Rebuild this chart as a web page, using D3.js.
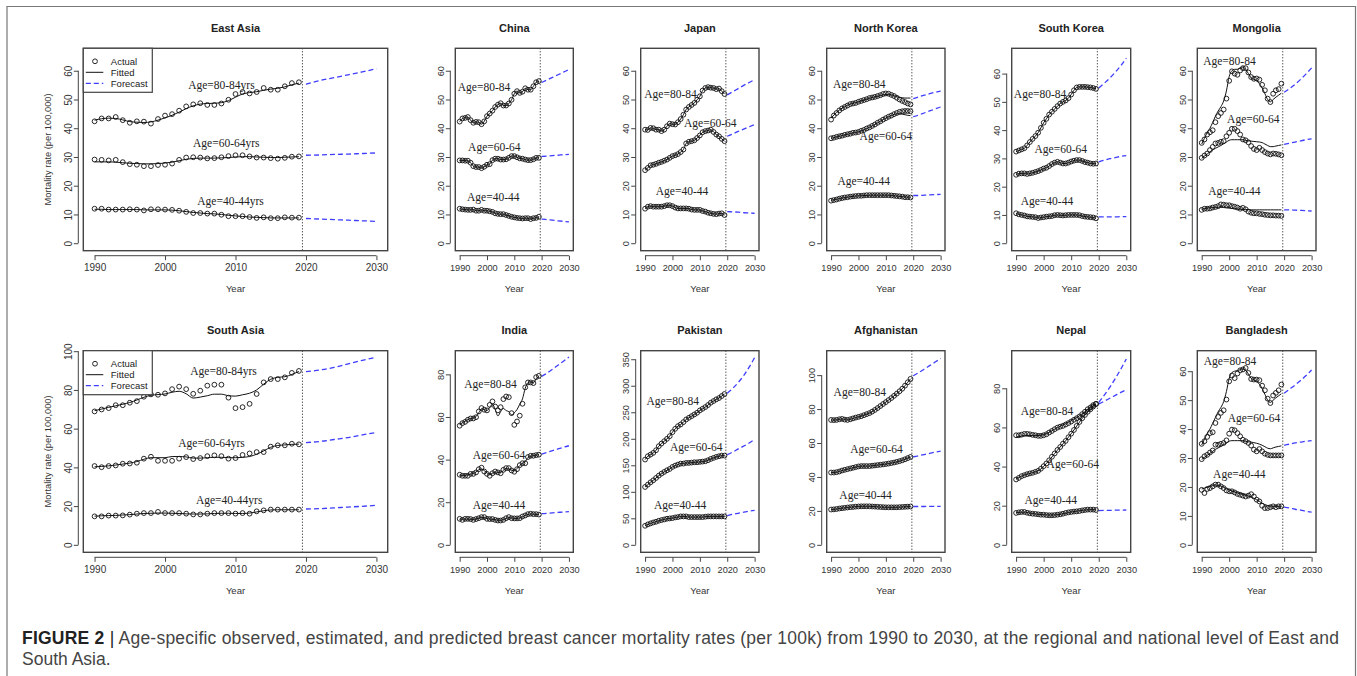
<!DOCTYPE html>
<html>
<head>
<meta charset="utf-8">
<script src="https://cdn.jsdelivr.net/npm/d3@7/dist/d3.min.js"></script>
<style>
  body { margin: 0; background: #fff; }
  svg { display: block; }
</style>
</head>
<body>
<div id="chart"></div>
<script>
"use strict";

// == DATA ==
var panelNames = ["East Asia", "China", "Japan", "North Korea", "South Korea", "Mongolia",
                  "South Asia", "India", "Pakistan", "Afghanistan", "Nepal", "Bangladesh"];
var ageGroups = ["80-84", "60-64", "40-44"];
var obsYears = [1990, 1991, 1992, 1993, 1994, 1995, 1996, 1997, 1998, 1999,
                2000, 2001, 2002, 2003, 2004, 2005, 2006, 2007, 2008, 2009,
                2010, 2011, 2012, 2013, 2014, 2015, 2016, 2017, 2018, 2019];
var fcYears = [2020, 2022, 2024, 2026, 2028, 2030];
var xTicks = [1990, 2000, 2010, 2020, 2030];
var yMaxes = [65.2, 65.2, 65.2, 65.2, 66.3, 65.2, 96.4, 87.6, 352, 110, 95.4, 64.5];
var yTickSets = [
  [0, 10, 20, 30, 40, 50, 60], [0, 10, 20, 30, 40, 50, 60], [0, 10, 20, 30, 40, 50, 60],
  [0, 10, 20, 30, 40, 50, 60], [0, 10, 20, 30, 40, 50, 60], [0, 10, 20, 30, 40, 50, 60],
  [0, 20, 40, 60, 80, 100], [0, 20, 40, 60, 80], [0, 50, 100, 150, 200, 250, 300, 350],
  [0, 20, 40, 60, 80, 100], [0, 20, 40, 60, 80], [0, 10, 20, 30, 40, 50, 60]
];

// each: [80-84, 60-64, 40-44]
var eastAsiaActual = [
  [42.4,43.4,43.4,43.9,42.8,41.9,42.4,42.3,41.6,43.2,44.4,44.9,46.1,47.6,48.3,48.7,48.1,48.1,48.6,49.9,51.9,52.6,52.1,52.6,54.0,53.4,53.4,54.6,55.7,56.0],
  [29.1,29.0,28.8,29.0,28.2,27.5,27.3,26.8,26.8,27.2,27.3,27.7,29.0,29.8,29.9,29.8,29.5,29.6,29.9,30.3,30.6,30.6,30.2,29.8,29.8,29.6,29.4,29.7,30.1,30.2],
  [12.0,12.0,11.7,11.7,11.7,11.8,11.7,11.4,11.8,11.8,11.7,11.6,11.3,10.9,10.5,10.5,10.3,10.3,9.9,9.4,9.4,9.4,9.1,8.8,9.0,8.7,8.7,9.0,8.9,8.9]
];
var eastAsiaFitted = [
  [42.8,43.3,43.5,43.4,42.9,42.3,42.1,42.0,42.2,42.8,43.6,44.5,45.6,46.8,47.8,48.4,48.6,48.7,48.9,49.6,50.8,51.9,52.4,52.7,53.2,53.6,53.9,54.4,55.1,55.7],
  [28.3,28.3,28.3,28.2,28.0,27.8,27.7,27.6,27.6,27.7,27.9,28.2,28.7,29.2,29.5,29.6,29.6,29.6,29.7,29.8,30.0,30.1,30.1,30.0,29.9,29.8,29.8,29.9,30.0,30.1],
  [11.8,11.8,11.7,11.7,11.7,11.7,11.7,11.6,11.6,11.6,11.6,11.5,11.3,11.0,10.7,10.5,10.3,10.2,10.0,9.7,9.5,9.3,9.1,9.0,8.9,8.8,8.8,8.8,8.8,8.8]
];
var eastAsiaForecast = [[55.3,56.6,57.6,58.6,59.6,60.7], [30.6,30.7,30.9,31.0,31.2,31.4], [8.6,8.4,8.2,8.0,7.8,7.6]];

var chinaActual = [
  [42.3,43.4,43.6,43.9,42.8,41.9,42.2,42.1,41.4,42.4,44.2,45.1,46.1,47.4,48.2,48.7,47.9,47.9,48.6,49.9,52.0,52.9,52.3,52.7,53.9,53.4,53.4,54.6,56.0,56.4],
  [28.8,28.8,28.7,28.7,28.0,26.8,26.5,26.5,26.1,26.6,27.3,27.5,28.9,29.4,29.4,29.1,29.1,29.2,29.7,30.3,30.3,29.9,29.5,29.4,29.1,28.9,28.9,29.2,29.7,29.7],
  [12.0,11.8,11.7,11.6,11.6,11.7,11.3,11.3,11.6,11.3,11.3,11.1,10.9,10.4,10.2,10.1,10.1,9.8,9.5,9.2,9.0,8.8,8.7,8.6,8.7,8.7,8.4,8.7,8.8,9.2]
];
var chinaFitted = chinaActual;
var chinaForecast = [[55.9,56.8,57.7,58.6,59.5,60.4], [30.2,30.3,30.5,30.6,30.8,30.9], [8.4,8.2,8.0,7.8,7.6,7.4]];

var japanActual = [
  [39.5,39.4,40.1,40.0,39.5,39.5,39.0,39.5,40.7,41.6,41.4,41.3,42.1,43.2,44.7,46.5,47.4,48.1,48.8,49.9,51.1,53.1,54.0,54.3,54.1,54.0,53.6,53.8,52.9,51.9],
  [25.4,26.2,27.1,27.3,27.6,28.0,28.3,28.7,29.1,29.7,30.3,30.6,31.0,31.7,32.6,34.7,35.3,35.5,35.8,36.6,37.5,38.6,39.0,39.2,39.5,38.7,37.8,37.2,36.3,35.5],
  [12.0,12.7,12.9,12.7,12.7,12.7,12.7,12.9,13.2,13.2,12.9,12.4,12.1,12.1,12.1,12.1,12.0,11.7,11.6,11.6,11.6,11.2,11.0,10.6,10.4,10.2,10.1,10.3,10.4,9.8]
];
var japanFitted = japanActual;
var japanForecast = [[51.6,52.7,53.8,54.9,55.9,56.9], [37.2,38.0,38.9,39.7,40.5,41.3], [11.0,10.9,10.8,10.6,10.5,10.4]];

var northKoreaActual = [
  [43.0,44.4,45.3,46.2,46.9,47.4,47.9,48.4,48.6,48.8,49.2,49.5,49.8,50.1,50.5,50.7,50.9,51.2,51.5,51.9,52.1,52.0,51.6,51.2,50.6,50.0,49.5,49.1,48.6,48.3],
  [36.5,36.7,37.0,37.2,37.4,37.7,37.9,38.1,38.4,38.5,38.7,39.1,39.4,39.9,40.3,40.8,41.3,41.9,42.4,43.0,43.5,44.0,44.4,44.9,45.3,45.7,45.9,46.0,46.0,45.9],
  [14.8,15.0,15.2,15.5,15.7,15.9,16.0,16.2,16.3,16.4,16.5,16.5,16.6,16.7,16.7,16.7,16.7,16.7,16.7,16.7,16.7,16.7,16.6,16.5,16.4,16.3,16.2,16.0,16.0,15.9]
];
var northKoreaFitted = [
  [43.5,44.6,45.5,46.3,47.0,47.5,48.0,48.4,48.7,48.9,49.2,49.5,49.8,50.1,50.4,50.7,50.9,51.1,51.4,51.6,51.8,51.8,51.6,51.3,51.0,50.7,50.6,50.5,50.5,50.5],
  [36.5,36.7,37.0,37.2,37.4,37.7,37.9,38.1,38.4,38.5,38.7,39.1,39.4,39.9,40.3,40.8,41.3,41.9,42.4,43.0,43.5,44.0,44.4,44.8,45.0,45.0,44.9,44.7,44.5,44.4],
  [14.9,15.1,15.3,15.5,15.7,15.9,16.0,16.2,16.3,16.4,16.5,16.5,16.6,16.6,16.7,16.7,16.7,16.7,16.7,16.7,16.7,16.7,16.6,16.5,16.4,16.3,16.2,16.1,16.0,16.0]
];
var northKoreaForecast = [[50.3,50.9,51.5,52.0,52.5,52.9], [44.0,44.6,45.3,46.0,46.7,47.4], [16.6,16.6,16.7,16.8,16.9,17.0]];

var southKoreaActual = [
  [32.4,32.8,33.2,33.6,34.6,35.8,36.9,37.9,39.1,40.8,42.6,44.0,45.5,46.5,47.5,48.5,49.4,50.0,50.5,51.3,52.6,54.1,55.1,55.3,55.3,55.3,55.2,55.1,54.9,54.6],
  [24.2,24.6,24.7,24.7,24.5,24.7,24.9,25.2,25.5,25.9,26.4,26.7,27.3,28.0,28.5,28.8,28.5,28.2,28.2,28.5,28.9,29.2,29.4,29.4,29.1,28.7,28.5,28.2,28.1,28.2],
  [10.6,10.2,10.0,9.8,9.5,9.4,9.3,9.2,8.9,9.1,9.2,9.4,9.5,9.6,9.9,10.0,9.9,9.8,9.9,10.0,10.0,10.0,10.0,9.9,9.6,9.4,9.3,9.2,9.1,8.8]
];
var southKoreaFitted = southKoreaActual;
var southKoreaForecast = [[54.9,56.6,58.4,60.5,62.8,65.5], [28.8,29.4,29.9,30.3,30.7,31.0], [9.3,9.3,9.3,9.3,9.4,9.4]];

var mongoliaActual = [
  [34.9,36.1,37.8,38.6,39.3,42.1,44.2,45.3,46.5,50.3,56.5,59.8,59.0,58.6,60.1,60.9,60.9,59.4,57.8,57.2,57.3,56.9,55.1,53.2,50.3,49.1,52.0,53.2,53.6,55.5],
  [29.7,30.5,31.2,32.4,33.5,34.7,34.9,35.3,35.5,37.2,38.4,39.8,39.8,39.0,37.8,36.1,35.8,35.1,33.8,32.8,32.4,33.2,32.4,31.7,31.2,30.9,31.2,31.1,30.9,30.6],
  [11.6,12.0,12.0,12.1,12.4,12.6,12.9,13.5,13.4,13.2,13.2,12.9,12.7,12.4,12.0,12.3,11.8,11.0,10.6,10.4,10.4,10.2,10.1,9.9,9.8,9.7,9.7,9.6,9.6,9.5]
];
var mongoliaFitted = [
  [34.5,36.5,38.5,40.0,42.0,44.2,46.0,47.5,49.5,53.0,58.0,60.0,60.5,60.5,61.0,61.3,60.5,59.0,57.5,57.0,56.5,55.5,54.0,52.0,50.0,49.2,50.0,50.8,51.5,52.2],
  [29.5,30.3,31.0,31.8,32.5,33.0,33.5,34.0,34.6,35.2,35.8,36.0,36.0,36.0,36.0,36.0,35.8,35.6,35.5,35.4,35.3,35.2,35.0,34.5,34.0,33.6,33.6,33.8,34.0,34.2],
  [11.8,12.0,12.2,12.3,12.4,12.5,12.5,12.5,12.4,12.3,12.2,12.1,12.0,11.9,11.8,11.8,11.7,11.7,11.6,11.6,11.6,11.6,11.6,11.6,11.6,11.6,11.6,11.6,11.6,11.6]
];
var mongoliaForecast = [[52.5,53.8,55.3,57.0,58.9,61.0], [34.4,34.8,35.2,35.6,36.0,36.3], [11.6,11.6,11.5,11.4,11.3,11.2]];

var southAsiaActual = [
  [68.9,69.9,70.6,72.1,72.1,73.4,74.2,76.5,77.7,77.5,78.2,80.4,81.7,80.4,78.0,79.6,82.2,82.7,82.7,76.0,70.6,71.1,72.8,77.9,83.9,85.6,85.6,86.5,88.8,89.8],
  [40.7,40.1,40.7,41.0,41.9,42.0,42.4,44.5,45.5,43.4,43.4,43.4,44.5,45.3,44.3,44.8,45.8,46.2,45.8,44.5,44.8,46.4,47.2,47.9,47.9,50.7,51.4,51.4,52.2,51.9],
  [14.7,14.7,15.1,15.1,15.2,15.6,16.1,16.4,16.4,17.0,16.4,16.4,16.4,16.1,15.7,15.7,16.1,16.4,16.4,16.4,16.1,16.4,16.1,17.3,17.8,18.2,18.2,18.2,18.2,18.2]
];
var southAsiaFitted = [
  [69.3,70.1,71.0,71.8,72.6,73.5,74.8,76.2,77.2,77.6,77.9,78.8,79.3,78.0,75.8,76.3,77.0,77.8,77.8,77.0,76.8,77.5,78.3,80.0,83.0,85.5,86.5,86.8,88.0,89.5],
  [40.3,40.5,40.8,41.2,41.7,42.2,43.0,44.2,45.0,45.0,45.0,45.6,45.6,45.4,44.8,44.8,45.0,45.2,45.2,45.0,45.0,45.2,45.6,46.8,48.5,50.4,51.3,51.6,51.9,52.0],
  [14.8,15.0,15.1,15.2,15.4,15.6,15.9,16.2,16.3,16.4,16.4,16.3,16.2,16.0,15.9,15.9,16.0,16.2,16.3,16.3,16.2,16.2,16.4,17.0,17.6,18.0,18.1,18.1,18.1,18.1]
];
var southAsiaForecast = [[89.4,90.3,91.6,93.4,95.3,96.9], [52.8,53.4,54.4,55.4,56.8,58.0], [18.5,18.7,19.1,19.5,19.9,20.4]];

var indiaActual = [
  [55.9,57.1,57.7,58.7,59.3,59.3,59.9,62.6,64.2,63.4,63.1,65.7,67.3,64.9,63.1,64.6,68.4,69.6,69.3,61.8,56.3,57.9,60.6,66.2,73.9,76.2,76.2,75.9,78.7,79.3],
  [32.9,32.4,32.4,32.4,33.3,33.3,34.0,35.5,36.2,34.4,33.3,32.4,33.6,34.4,34.0,33.6,35.2,36.0,36.0,34.9,34.3,35.5,37.4,38.3,38.3,41.2,41.8,41.8,42.1,42.3],
  [12.2,11.7,12.2,12.2,12.1,11.7,12.1,12.5,13.0,13.0,12.2,12.1,12.1,11.7,11.4,11.4,11.7,12.5,13.0,12.5,12.4,12.4,12.5,13.3,13.8,14.4,14.6,14.4,14.4,14.2]
];
var indiaFitted = [
  [56.5,57.3,58.0,58.8,59.2,59.5,60.2,62.0,63.8,63.5,63.0,64.5,66.0,63.5,60.5,62.5,64.0,63.0,62.5,61.0,62.0,63.5,66.0,68.5,73.5,76.0,76.5,76.0,78.0,79.0],
  [32.7,32.6,32.6,32.8,33.2,33.5,34.2,35.2,35.6,34.8,33.8,33.0,33.6,34.2,34.0,34.0,35.0,35.8,35.6,35.0,34.8,35.8,37.2,38.2,39.0,41.0,41.6,41.9,42.1,42.3],
  [12.1,12.0,12.1,12.1,12.0,11.9,12.1,12.5,12.9,12.8,12.3,12.1,12.0,11.8,11.5,11.5,11.8,12.4,12.8,12.6,12.4,12.4,12.6,13.2,13.8,14.3,14.5,14.4,14.3,14.3]
];
var indiaForecast = [[79.0,80.6,82.4,84.3,86.2,88.1], [42.6,43.4,44.2,45.0,45.8,46.5], [14.6,14.8,15.0,15.2,15.4,15.6]];

var pakistanActual = [
  [160.8,167.1,170.2,173.4,178.4,186.0,191.0,195.5,199.9,204.9,212.5,218.8,223.8,227.0,231.4,236.4,239.6,242.7,245.9,249.1,253.5,256.6,259.8,263.6,268.0,271.1,274.3,276.8,280.6,284.4],
  [109.1,113.5,117.9,121.7,126.1,130.5,134.3,137.5,140.6,143.1,146.9,149.4,151.3,153.2,153.2,154.5,154.5,155.1,155.7,155.7,156.4,157.0,157.6,159.5,162.0,163.9,165.8,167.1,168.3,168.3],
  [35.9,38.5,40.4,42.2,43.5,45.4,46.7,47.9,49.2,49.8,50.4,51.7,52.3,53.6,53.6,53.6,52.3,52.3,52.3,52.3,52.3,52.3,53.0,53.6,53.6,53.6,53.6,53.6,53.6,53.6]
];
var pakistanFitted = pakistanActual;
var pakistanForecast = [[286,295,306,319,335,353], [170,175,181,186,192,199], [55,57.5,59.5,61.5,63.5,65]];

var afghanistanActual = [
  [73.6,73.5,73.6,74.0,74.2,73.8,73.6,74.0,74.5,75.0,75.4,75.8,76.4,77.0,77.6,78.5,79.5,80.6,81.8,83.0,84.1,85.3,86.5,87.8,89.1,90.5,92.0,93.8,95.8,97.8],
  [42.6,42.6,42.8,43.2,43.8,44.2,44.6,45.0,45.4,45.8,46.2,46.4,46.4,46.4,46.4,46.6,46.8,47.0,47.2,47.4,47.6,47.9,48.2,48.5,48.9,49.3,49.8,50.4,51.1,51.8],
  [20.8,20.9,21.1,21.4,21.6,21.8,22.0,22.2,22.3,22.5,22.6,22.7,22.7,22.7,22.7,22.6,22.5,22.4,22.3,22.2,22.1,22.1,22.1,22.1,22.1,22.2,22.3,22.4,22.5,22.6]
];
var afghanistanFitted = afghanistanActual;
var afghanistanForecast = [[99.6,101.5,103.5,105.6,107.7,109.8], [51.9,52.5,53.2,53.9,54.6,55.2], [22.6,22.6,22.6,22.7,22.7,22.7]];

var nepalActual = [
  [56.0,56.0,56.3,56.7,56.7,56.5,56.2,56.0,55.7,55.7,56.0,56.5,57.4,58.2,59.1,59.9,60.4,60.8,61.5,62.2,63.0,63.9,64.7,65.6,66.8,68.0,69.3,70.2,71.4,71.9],
  [33.4,34.2,35.1,35.6,36.1,36.5,36.8,37.3,37.8,38.9,40.2,41.6,43.2,45.0,46.7,48.5,50.0,51.7,53.1,55.0,56.8,58.7,60.8,62.8,64.7,66.4,68.0,69.3,70.7,72.1],
  [16.3,16.6,16.8,16.8,16.4,16.1,15.9,15.8,15.6,15.4,15.4,15.2,15.1,15.1,15.2,15.4,15.6,15.9,16.3,16.6,16.8,17.0,17.1,17.3,17.6,17.8,18.0,18.0,18.0,17.8]
];
var nepalFitted = [
  [55.0,55.3,55.6,55.8,55.9,55.9,55.9,55.9,55.9,56.0,56.3,56.8,57.5,58.3,59.1,59.9,60.6,61.3,62.0,62.7,63.5,64.3,65.1,66.0,67.0,68.0,69.1,70.1,71.1,72.0],
  [33.6,34.4,35.1,35.7,36.1,36.5,36.9,37.3,37.9,38.8,40.1,41.6,43.2,44.9,46.7,48.4,50.0,51.6,53.2,55.0,56.8,58.7,60.7,62.7,64.6,66.3,67.9,69.3,70.7,72.0],
  [16.4,16.6,16.7,16.7,16.5,16.2,16.0,15.8,15.6,15.5,15.4,15.3,15.2,15.2,15.3,15.4,15.6,15.9,16.2,16.5,16.8,17.0,17.2,17.4,17.6,17.8,17.9,18.0,18.0,17.9]
];
var nepalForecast = [[72.0,73.4,74.9,76.4,77.9,79.3], [72.8,76.5,80.5,85.0,89.8,95.0], [17.5,17.6,17.6,17.7,17.7,17.8]];

var bangladeshActual = [
  [34.9,35.8,37.3,38.6,38.9,42.1,44.2,45.6,46.5,50.2,56.5,58.5,57.6,59.2,60.3,60.6,61.1,59.4,57.3,57.1,57.1,56.9,55.0,53.4,50.5,49.0,51.6,52.5,53.4,55.4],
  [29.6,30.6,31.1,31.9,32.6,34.6,34.6,34.9,35.2,36.1,38.4,39.8,39.6,38.6,37.5,36.3,35.8,35.2,34.3,32.9,32.3,33.1,32.3,31.5,31.1,30.9,30.9,30.9,30.9,30.9],
  [19.0,17.9,19.3,19.6,20.2,20.8,20.8,20.2,19.6,18.8,18.5,18.5,18.1,17.6,17.3,17.0,16.7,17.0,17.5,16.7,15.6,15.0,13.5,12.7,12.7,13.0,13.3,13.0,13.3,13.3]
];
var bangladeshFitted = [
  [34.5,36.5,38.5,40.0,42.0,44.0,46.0,47.5,49.5,53.0,57.5,59.5,60.0,60.2,60.5,60.8,60.3,59.0,57.5,57.0,56.5,55.5,54.0,52.0,50.0,49.2,50.0,50.8,51.5,52.2],
  [29.5,30.2,30.9,31.6,32.3,33.0,33.5,34.0,34.6,35.2,35.8,36.0,36.0,36.0,36.0,36.0,35.8,35.6,35.5,35.3,35.1,34.8,34.4,33.9,33.4,33.2,33.5,33.8,34.0,34.2],
  [19.3,19.6,19.9,20.2,20.5,20.7,20.6,20.3,19.9,19.4,19.0,18.6,18.3,18.0,17.7,17.4,17.1,16.8,16.5,16.1,15.6,15.0,14.4,13.9,13.6,13.4,13.3,13.3,13.3,13.3]
];
var bangladeshForecast = [[52.4,53.8,55.2,56.8,58.5,60.4], [34.4,34.8,35.2,35.5,35.8,36.0], [13.0,12.7,12.3,12.0,11.6,11.3]];

// where the "Age=" notes sit, in [year, rate] per age group
var ageLabelAt = [
  [[2008.0, 54.9], [2008.7, 34.7], [2009.3, 14.6]],
  [[1998.9, 54.2], [2002.7, 33.5], [2002.3, 16.2]],
  [[1999.3, 51.8], [2013.8, 41.8], [2003.5, 18.0]],
  [[2000.3, 55.5], [2010.0, 37.2], [2001.9, 21.5]],
  [[1998.7, 52.8], [2006.2, 33.5], [2001.2, 15.1]],
  [[2000.1, 63.5], [2008.8, 43.2], [2001.9, 18.0]],
  [[2008.3, 89.6], [2006.6, 52.4], [2009.1, 23.4]],
  [[2001.3, 75.4], [2004.4, 42.3], [2004.4, 18.8]],
  [[2000.1, 271], [2008.7, 184], [2002.8, 74.4]],
  [[2000.5, 90.3], [2006.6, 56.2], [2002.6, 29.6]],
  [[2001.2, 68.5], [2010.6, 41.1], [2002.6, 23.1]],
  [[2000.3, 63.7], [2009.0, 43.8], [2003.7, 24.6]]
];

var actual = [eastAsiaActual, chinaActual, japanActual, northKoreaActual, southKoreaActual, mongoliaActual,
              southAsiaActual, indiaActual, pakistanActual, afghanistanActual, nepalActual, bangladeshActual];
var fitted = [eastAsiaFitted, chinaFitted, japanFitted, northKoreaFitted, southKoreaFitted, mongoliaFitted,
              southAsiaFitted, indiaFitted, pakistanFitted, afghanistanFitted, nepalFitted, bangladeshFitted];
var forecast = [eastAsiaForecast, chinaForecast, japanForecast, northKoreaForecast, southKoreaForecast, mongoliaForecast,
                southAsiaForecast, indiaForecast, pakistanForecast, afghanistanForecast, nepalForecast, bangladeshForecast];

// == LAYOUT ==
var W = 1357, H = 676;
var colX = [[83.3, 387.7], [455.3, 573.3], [640.7, 759], [826.7, 945], [1011.7, 1130.7], [1197.3, 1316]];
var rowY = [[48.3, 250.7], [350.7, 552.3]];
var BLUE = "#3d3dff";
var SANS = "'Liberation Sans', Arial, sans-serif";

var svg = d3.select("#chart").append("svg")
  .attr("width", W).attr("height", H)
  .style("font-family", SANS);

svg.append("rect").attr("width", W).attr("height", H).attr("fill", "#fff");

// figure frame (top, left, right)
svg.append("path")
  .attr("d", "M7,680V6.5H1355.5V680")
  .attr("fill", "none").attr("stroke", "#777").attr("stroke-width", 1.2);

panelNames.forEach(function (name, p) {
  var row = Math.floor(p / 6), col = p % 6;
  var x0 = colX[col][0], x1 = colX[col][1];
  var y0 = rowY[row][0], y1 = rowY[row][1];
  var wide = col === 0;
  var tickFont = wide ? 10 : 9.2;

  var x = d3.scaleLinear().domain([1988.4, 2031.6]).range([x0, x1]);
  var R = yMaxes[p];
  var y = d3.scaleLinear().domain([-0.04 * R, 1.04 * R]).range([y1, y0]);

  var g = svg.append("g");

  // title
  g.append("text")
    .attr("x", (x0 + x1) / 2).attr("y", y0 - 16.5)
    .attr("text-anchor", "middle")
    .style("font-size", "11px").style("font-weight", "bold").attr("fill", "#222")
    .text(name);

  // y axis (offset left of the box, R style)
  var ticksY = yTickSets[p];
  var yAxis = d3.axisLeft(y).tickValues(ticksY).tickSize(4.5).tickSizeOuter(0);
  var ga = g.append("g").attr("transform", "translate(" + (x0 - 5) + ",0)").call(yAxis);
  ga.select(".domain").remove();
  ga.append("line")
    .attr("y1", y(ticksY[0])).attr("y2", y(ticksY[ticksY.length - 1]))
    .attr("stroke", "#444");
  ga.selectAll(".tick line").attr("stroke", "#444");
  ga.selectAll(".tick text")
    .attr("x", 0).attr("y", -6.5).attr("dy", 0)
    .attr("transform", "rotate(-90)")
    .attr("text-anchor", "middle")
    .attr("fill", "#333")
    .style("font-family", SANS)
    .style("font-size", tickFont + "px");

  // x axis
  var xAxis = d3.axisBottom(x).tickValues(xTicks).tickFormat(d3.format("d")).tickSize(4.5).tickSizeOuter(0);
  var gx = g.append("g").attr("transform", "translate(0," + (y1 + 5) + ")").call(xAxis);
  gx.select(".domain").remove();
  gx.append("line")
    .attr("x1", x(xTicks[0])).attr("x2", x(xTicks[xTicks.length - 1]))
    .attr("stroke", "#444");
  gx.selectAll(".tick line").attr("stroke", "#444");
  gx.selectAll(".tick text")
    .attr("y", 15.8).attr("dy", 0)
    .attr("fill", "#333")
    .style("font-family", SANS)
    .style("font-size", tickFont + "px");

  // axis titles
  g.append("text")
    .attr("x", (x0 + x1) / 2).attr("y", y1 + 41.5)
    .attr("text-anchor", "middle")
    .style("font-size", "9.5px").attr("fill", "#333")
    .text("Year");
  if (wide) {
    g.append("text")
      .attr("transform", "translate(51," + ((y0 + y1) / 2) + ") rotate(-90)")
      .attr("text-anchor", "middle")
      .style("font-size", "9.3px").attr("fill", "#333")
      .text("Mortality rate (per 100,000)");
  }

  // vertical divider between observed and projected years
  g.append("line")
    .attr("x1", x(2019.5)).attr("x2", x(2019.5))
    .attr("y1", y0).attr("y2", y1)
    .attr("stroke", "#111").attr("stroke-width", 1)
    .attr("stroke-dasharray", "1,2");

  var line = d3.line()
    .x(function (d) { return x(d[0]); })
    .y(function (d) { return y(d[1]); })
    .curve(d3.curveMonotoneX);

  ageGroups.forEach(function (age, a) {
    var obs = obsYears.map(function (yr, i) { return [yr, actual[p][a][i]]; });
    var fit = obsYears.map(function (yr, i) { return [yr, fitted[p][a][i]]; });
    var fc = fcYears.map(function (yr, i) { return [yr, forecast[p][a][i]]; });

    g.append("path").datum(fit)
      .attr("d", line)
      .attr("fill", "none").attr("stroke", "#111").attr("stroke-width", 1);

    g.append("path").datum(fc)
      .attr("d", line)
      .attr("fill", "none").attr("stroke", BLUE).attr("stroke-width", 1.3)
      .attr("stroke-dasharray", "5,3");

    g.selectAll(null)
      .data(obs)
      .enter()
      .append("circle")
      .attr("cx", function (d) { return x(d[0]); })
      .attr("cy", function (d) { return y(d[1]); })
      .attr("r", 2.4)
      .attr("fill", "none").attr("stroke", "#111").attr("stroke-width", 0.9);

    var at = ageLabelAt[p][a];
    g.append("text")
      .attr("x", x(at[0])).attr("y", y(at[1]))
      .attr("dy", "0.35em")
      .attr("text-anchor", "middle")
      .style("font-family", "'Liberation Serif', 'Times New Roman', serif")
      .style("font-size", "11.5px").attr("fill", "#222")
      .text("Age=" + age + (wide ? "yrs" : ""));
  });

  // plot box
  g.append("rect")
    .attr("x", x0).attr("y", y0).attr("width", x1 - x0).attr("height", y1 - y0)
    .attr("fill", "none").attr("stroke", "#444").attr("stroke-width", 1.4);

  // legend on the regional panels
  if (wide) {
    var lg = g.append("g").attr("transform", "translate(" + x0 + "," + y0 + ")");
    lg.append("rect")
      .attr("width", 69).attr("height", 44)
      .attr("fill", "#fff").attr("stroke", "#444").attr("stroke-width", 1.2);
    lg.append("circle").attr("cx", 11.7).attr("cy", 13).attr("r", 2.4)
      .attr("fill", "none").attr("stroke", "#111").attr("stroke-width", 0.9);
    lg.append("line").attr("x1", 2.5).attr("x2", 20).attr("y1", 24).attr("y2", 24)
      .attr("stroke", "#111");
    lg.append("line").attr("x1", 2.5).attr("x2", 20).attr("y1", 35).attr("y2", 35)
      .attr("stroke", BLUE).attr("stroke-width", 1.3).attr("stroke-dasharray", "5,3");
    ["Actual", "Fitted", "Forecast"].forEach(function (t, i) {
      lg.append("text")
        .attr("x", 27.5).attr("y", 13 + 11 * i).attr("dy", "0.35em")
        .style("font-size", "9.5px").attr("fill", "#222")
        .text(t);
    });
  }
});

// == CAPTION ==
var cap1 = svg.append("text")
  .attr("x", 22).attr("y", 644)
  .attr("textLength", 1317).attr("lengthAdjust", "spacing")
  .style("font-size", "17.5px").attr("fill", "#444");
cap1.append("tspan").style("font-weight", "bold").attr("fill", "#222").text("FIGURE 2");
cap1.append("tspan").attr("fill", "#222").text(" | ");
cap1.append("tspan").text("Age-specific observed, estimated, and predicted breast cancer mortality rates (per 100k) from 1990 to 2030, at the regional and national level of East and");

svg.append("text")
  .attr("x", 22).attr("y", 665)
  .style("font-size", "17.5px").attr("fill", "#444")
  .text("South Asia.");
</script>
</body>
</html>
